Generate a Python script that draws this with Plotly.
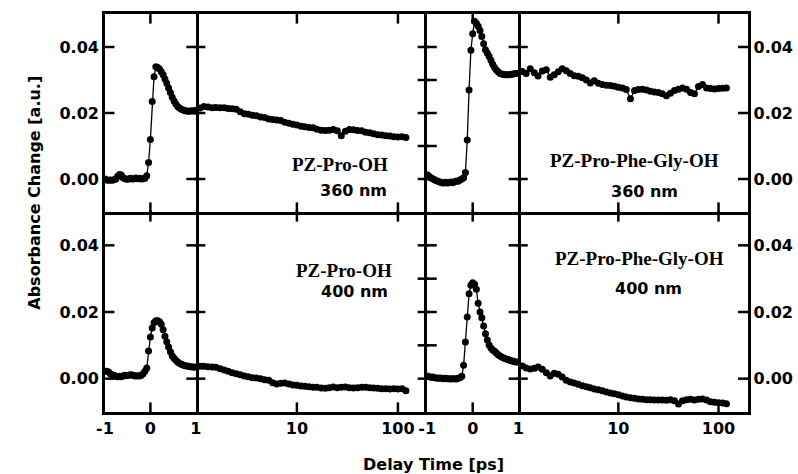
import math
import plotly.graph_objects as go

# ---------------- data ----------------
t_lin = [-1.00, -0.96, -0.92, -0.88, -0.84, -0.80, -0.76, -0.72, -0.68, -0.64,
         -0.60, -0.56, -0.52, -0.48, -0.44, -0.40, -0.36, -0.32, -0.28, -0.24,
         -0.20, -0.16, -0.12, -0.08, -0.04, 0.00, 0.04, 0.08, 0.12, 0.16,
         0.20, 0.24, 0.28, 0.32, 0.36, 0.40, 0.44, 0.48, 0.52, 0.56,
         0.60, 0.64, 0.68, 0.72, 0.76, 0.80, 0.84, 0.88, 0.92, 0.96, 1.00]

t_log = [1.10, 1.20, 1.32, 1.45, 1.58, 1.74, 1.91, 2.09, 2.29, 2.51,
         2.75, 3.02, 3.31, 3.63, 3.98, 4.37, 4.79, 5.25, 5.75, 6.31,
         6.92, 7.59, 8.32, 9.12, 10.0, 11.0, 12.0, 13.2, 14.5, 15.8,
         17.4, 19.1, 20.9, 22.9, 25.1, 27.5, 30.2, 33.1, 36.3, 39.8,
         43.7, 47.9, 52.5, 57.5, 63.1, 69.2, 75.9, 83.2, 91.2, 100.0, 110.0, 120.0]

pro_360_lin = [0.0000, -0.0003, -0.0004, -0.0003, -0.0004, -0.0002, 0.0000, 0.0008, 0.0014, 0.0012,
               0.0004, 0.0001, -0.0001, 0.0000, 0.0002, 0.0000, 0.0001, 0.0003, 0.0001, 0.0002,
               0.0000, 0.0001, 0.0002, 0.0010, 0.0050, 0.0120, 0.0235, 0.0310, 0.0340, 0.0338,
               0.0333, 0.0325, 0.0316, 0.0303, 0.0290, 0.0276, 0.0262, 0.0248, 0.0236, 0.0227,
               0.0220, 0.0215, 0.0211, 0.0209, 0.0207, 0.0206, 0.0205, 0.0206, 0.0207, 0.0206, 0.0208]
pro_360_log = [0.0215, 0.0220, 0.0218, 0.0216, 0.0217, 0.0216, 0.0216, 0.0214, 0.0213, 0.0211,
               0.0204, 0.0198, 0.0196, 0.0193, 0.0192, 0.0188, 0.0186, 0.0182, 0.0180, 0.0179,
               0.0177, 0.0172, 0.0169, 0.0166, 0.0164, 0.0160, 0.0158, 0.0156, 0.0155, 0.0151,
               0.0148, 0.0147, 0.0148, 0.0150, 0.0146, 0.0131, 0.0145, 0.0150, 0.0149, 0.0147,
               0.0146, 0.0142, 0.0140, 0.0137, 0.0134, 0.0133, 0.0131, 0.0130, 0.0128, 0.0127,
               0.0128, 0.0126]

ppg_360_lin = [0.0013, 0.0008, 0.0004, 0.0001, -0.0002, -0.0005, -0.0007, -0.0009, -0.0011, -0.0012,
               -0.0010, -0.0012, -0.0011, -0.0009, -0.0011, -0.0008, -0.0006, -0.0007, -0.0003, 0.0000,
               0.0004, 0.0020, 0.0118, 0.0270, 0.0390, 0.0440, 0.0478, 0.0472, 0.0463, 0.0450,
               0.0432, 0.0410, 0.0392, 0.0382, 0.0372, 0.0360, 0.0348, 0.0338, 0.0330, 0.0325,
               0.0320, 0.0318, 0.0317, 0.0316, 0.0316, 0.0316, 0.0317, 0.0318, 0.0319, 0.0320, 0.0320]
ppg_360_log = [0.0326, 0.0320, 0.0334, 0.0322, 0.0312, 0.0327, 0.0331, 0.0308, 0.0316, 0.0325,
               0.0334, 0.0328, 0.0320, 0.0313, 0.0311, 0.0307, 0.0300, 0.0291, 0.0298, 0.0290,
               0.0286, 0.0284, 0.0283, 0.0281, 0.0278, 0.0276, 0.0271, 0.0243, 0.0268, 0.0271,
               0.0272, 0.0270, 0.0266, 0.0264, 0.0262, 0.0258, 0.0252, 0.0260, 0.0268, 0.0272,
               0.0276, 0.0272, 0.0262, 0.0258, 0.0280, 0.0286, 0.0276, 0.0274, 0.0273, 0.0274,
               0.0275, 0.0276]

pro_400_lin = [0.0022, 0.0022, 0.0020, 0.0015, 0.0012, 0.0010, 0.0007, 0.0006, 0.0007, 0.0006,
               0.0008, 0.0010, 0.0009, 0.0010, 0.0012, 0.0011, 0.0009, 0.0008, 0.0009, 0.0008,
               0.0010, 0.0015, 0.0022, 0.0032, 0.0083, 0.0125, 0.0152, 0.0168, 0.0174, 0.0174,
               0.0171, 0.0163, 0.0147, 0.0127, 0.0111, 0.0095, 0.0081, 0.0069, 0.0061, 0.0055,
               0.0050, 0.0046, 0.0043, 0.0041, 0.0039, 0.0038, 0.0037, 0.0036, 0.0035, 0.0035, 0.0034]
pro_400_log = [0.0037, 0.0037, 0.0036, 0.0035, 0.0034, 0.0030, 0.0026, 0.0022, 0.0018, 0.0015,
               0.0012, 0.0008, 0.0006, 0.0003, 0.0002, 0.0000, -0.0003, -0.0005, -0.0012, -0.0016,
               -0.0014, -0.0013, -0.0016, -0.0019, -0.0020, -0.0022, -0.0023, -0.0024, -0.0026, -0.0026,
               -0.0028, -0.0029, -0.0027, -0.0025, -0.0027, -0.0026, -0.0025, -0.0027, -0.0028, -0.0027,
               -0.0026, -0.0026, -0.0027, -0.0028, -0.0029, -0.0030, -0.0030, -0.0031, -0.0030, -0.0031,
               -0.0030, -0.0036]

ppg_400_lin = [0.0008, 0.0006, 0.0004, 0.0005, 0.0003, 0.0002, 0.0001, 0.0002, 0.0001, 0.0000,
               0.0001, 0.0000, 0.0000, -0.0001, 0.0000, 0.0000, -0.0001, 0.0001, 0.0003, 0.0007,
               0.0040, 0.0110, 0.0185, 0.0255, 0.0280, 0.0288, 0.0283, 0.0268, 0.0226, 0.0200,
               0.0183, 0.0158, 0.0135, 0.0116, 0.0101, 0.0092, 0.0086, 0.0082, 0.0077, 0.0072,
               0.0068, 0.0065, 0.0062, 0.0060, 0.0058, 0.0056, 0.0054, 0.0053, 0.0051, 0.0050, 0.0049]
ppg_400_log = [0.0038, 0.0032, 0.0029, 0.0031, 0.0035, 0.0028, 0.0018, 0.0008, 0.0016, 0.0013,
               0.0005, -0.0005, -0.0010, -0.0013, -0.0017, -0.0021, -0.0024, -0.0027, -0.0031, -0.0033,
               -0.0036, -0.0040, -0.0043, -0.0045, -0.0048, -0.0052, -0.0055, -0.0057, -0.0059, -0.0061,
               -0.0062, -0.0063, -0.0063, -0.0064, -0.0064, -0.0064, -0.0065, -0.0063, -0.0066, -0.0076,
               -0.0066, -0.0063, -0.0062, -0.0064, -0.0062, -0.0061, -0.0064, -0.0069, -0.0071, -0.0072,
               -0.0073, -0.0075]

compound_labels = ["PZ-Pro-OH", "PZ-Pro-Phe-Gly-OH", "PZ-Pro-OH", "PZ-Pro-Phe-Gly-OH"]
wavelength_labels = ["360 nm", "360 nm", "400 nm", "400 nm"]

y_major = [0.0, 0.02, 0.04]
y_major_text = ["0.00", "0.02", "0.04"]
y_minor = [0.0, 0.01, 0.02, 0.03, 0.04]
x_lin_ticks = [-1, 0]
x_lin_text = ["-1", "0"]
x_log_ticks = [1, 10, 100]
x_log_text = ["1", "10", "100"]

# ---------------- layout geometry ----------------
W, H = 798, 474
XB = [97, 189, 423, 515, 747]
YB = [14, 212, 412]


def fx(p):
    return p / W


def fy(p):
    return 1 - p / H


def sfx(n):
    return "" if n == 1 else str(n)


SANS = "DejaVu Sans"
SERIF = "Liberation Serif"
tickfont = dict(family=SANS, size=16, color="black", weight="bold")
LW = 2.5
TL = 8          # tick length (px)
TW = 2.5        # tick width (px)
YR = [-0.01, 0.05]
LOGR = [0, 2.29]
LINR = [-1, 1]

panels = [
    (0, 0, pro_360_lin, pro_360_log),
    (0, 1, ppg_360_lin, ppg_360_log),
    (1, 0, pro_400_lin, pro_400_log),
    (1, 1, ppg_400_lin, ppg_400_log),
]

left_set = {0: y_major, 1: y_major, 2: y_minor, 3: y_major}
right_set = {0: y_major, 1: y_minor, 2: y_major, 3: y_major}

fig = go.Figure()
layout = {}

marker = dict(symbol="circle", size=7, color="black")
line = dict(color="black", width=1.3)

common = dict(showgrid=False, zeroline=False, linecolor="black",
              linewidth=LW, fixedrange=True, tickfont=tickfont)

for row, half, ylin, ylog in panels:
    for part in range(2):
        col = half * 2 + part
        n = row * 4 + col + 1
        s = sfx(n)
        is_log = part == 1
        wpx = XB[col + 1] - XB[col]
        hpx = YB[row + 1] - YB[row]

        if is_log:
            xscale = dict(type="log", range=LOGR, tickvals=x_log_ticks,
                          ticktext=x_log_text)
            r0, r1 = LOGR
            xt = [math.log10(v) for v in x_log_ticks]
        else:
            xscale = dict(type="linear", range=LINR, tickvals=x_lin_ticks,
                          ticktext=x_lin_text)
            r0, r1 = LINR
            xt = list(x_lin_ticks)

        def to_data(u, lg=is_log):
            return 10 ** u if lg else u

        half_dx = (r1 - r0) / wpx * TL / 2
        half_dy = (YR[1] - YR[0]) / hpx * TL / 2

        # tick marks drawn as line-shaped markers, centred half a tick inside
        hx, hy = [], []
        for v in left_set[col]:
            hx.append(to_data(r0 + half_dx))
            hy.append(v)
        for v in right_set[col]:
            hx.append(to_data(r1 - half_dx))
            hy.append(v)
        vx, vy = [], []
        for u in xt:
            if u <= r0 + 1e-9 or u >= r1 - 1e-9:
                continue
            vx += [to_data(u), to_data(u)]
            vy += [YR[1] - half_dy, YR[0] + half_dy]
        for tx, ty, sym in ((hx, hy, "line-ew"), (vx, vy, "line-ns")):
            if not tx:
                continue
            fig.add_trace(go.Scatter(
                x=tx, y=ty, mode="markers",
                marker=dict(symbol=sym, size=TL, color="black",
                            line=dict(color="black", width=TW)),
                xaxis="x" + s, yaxis="y" + s, showlegend=False,
                hoverinfo="skip", cliponaxis=False))

        fig.add_trace(go.Scatter(
            x=t_log if is_log else t_lin,
            y=ylog if is_log else ylin,
            mode="lines+markers", marker=marker, line=line,
            xaxis="x" + s, yaxis="y" + s, showlegend=False,
            hoverinfo="skip"))

        layout["xaxis" + s] = dict(
            common, domain=[fx(XB[col]), fx(XB[col + 1])], anchor="y" + s,
            showline=True, mirror=(row == 0), showticklabels=(row == 1),
            ticks="", **xscale)

        ydict = dict(common, domain=[fy(YB[row + 1]), fy(YB[row])],
                     anchor="x" + s, range=YR, showticklabels=False,
                     ticks="", tickvals=y_major, ticktext=y_major_text)
        if col == 0:
            ydict.update(side="left", showticklabels=True, mirror=True,
                         showline=True)
        elif col == 1:
            ydict.update(side="left", showline=False)
        elif col == 2:
            ydict.update(side="left", showline=True, mirror=True)
        else:
            ydict.update(side="right", showticklabels=True, showline=True,
                         mirror=False)
        layout["yaxis" + s] = ydict

# ---------------- annotations ----------------
name_pos = [(335, 164), (633, 161), (339, 270), (638, 258)]
wl_pos = [(348, 190), (643, 191), (349, 291), (647, 288)]
annotations = []
for i in range(4):
    annotations.append(dict(
        text="<b>%s</b>" % compound_labels[i], x=fx(name_pos[i][0]),
        y=fy(name_pos[i][1]), xref="paper", yref="paper", showarrow=False,
        xanchor="center", yanchor="middle",
        font=dict(family=SERIF, size=19, color="black")))
    annotations.append(dict(
        text="<b>%s</b>" % wavelength_labels[i], x=fx(wl_pos[i][0]),
        y=fy(wl_pos[i][1]), xref="paper", yref="paper", showarrow=False,
        xanchor="center", yanchor="middle",
        font=dict(family=SANS, size=16, color="black")))

annotations.append(dict(
    text="<b>Absorbance Change [a.u.]</b>", x=fx(25), y=fy(193),
    xref="paper", yref="paper", showarrow=False, textangle=-90,
    xanchor="center", yanchor="middle",
    font=dict(family=SANS, size=16, color="black")))
annotations.append(dict(
    text="<b>Delay Time [ps]</b>", x=fx(429), y=fy(464),
    xref="paper", yref="paper", showarrow=False,
    xanchor="center", yanchor="middle",
    font=dict(family=SANS, size=16, color="black")))

fig.update_layout(
    width=W, height=H, autosize=False,
    margin=dict(l=0, r=0, t=0, b=0),
    paper_bgcolor="white", plot_bgcolor="white",
    font=dict(family=SANS, color="black"),
    annotations=annotations, showlegend=False,
    **layout)

fig.write_html("out.html", config={"displayModeBar": False})
